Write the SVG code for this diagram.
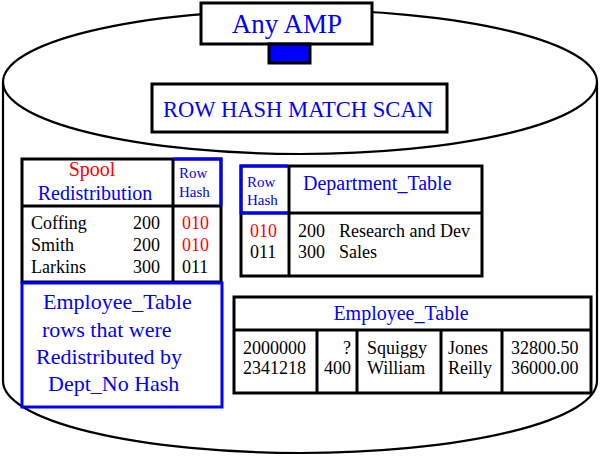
<svg xmlns="http://www.w3.org/2000/svg" width="600" height="456" viewBox="0 0 600 456">
<style>
text{font-family:"Liberation Serif","Times New Roman",serif;}
.cyl{fill:none;stroke:#000;stroke-width:2.2}
.bx{fill:#fff;stroke:#000;stroke-width:3}
.ln{stroke:#000;stroke-width:3}
.bl{stroke:#0000ff;stroke-width:3;fill:none}
.b{fill:#0000ff}
.r{fill:#ff0000}
.k{fill:#000}
</style>
<rect width="600" height="456" fill="#fff"/>
<g id="cylinder">
<ellipse class="cyl" cx="300" cy="82" rx="297" ry="72"/>
<path class="cyl" d="M3,82 L3,381 A297,72 0 0 0 597,381 L597,82"/>
</g>
<g id="any-amp">
<rect class="bx" x="201" y="3" width="171" height="41"/>
<rect x="269" y="44" width="41" height="19" fill="#0000ff" stroke="#000" stroke-width="3"/>
<text class="b" x="287" y="33" font-size="27" text-anchor="middle">Any AMP</text>
</g>
<g id="row-hash-match-scan">
<rect class="bx" x="152" y="84" width="295" height="48"/>
<text class="b" x="298" y="117" font-size="22.6" text-anchor="middle">ROW HASH MATCH SCAN</text>
</g>
<g id="spool">
<rect class="bx" x="22" y="159" width="199" height="123"/>
<line class="ln" x1="22" y1="206" x2="221" y2="206"/>
<line class="ln" x1="173" y1="159" x2="173" y2="282"/>
<polyline class="bl" points="173,159 221,159 221,206"/>
<text class="r" x="92" y="176" font-size="20" text-anchor="middle">Spool</text>
<text class="b" x="95" y="200" font-size="20" text-anchor="middle">Redistribution</text>
<text class="b" x="179" y="178" font-size="15">Row</text>
<text class="b" x="179" y="197" font-size="15">Hash</text>
<text class="k" font-size="18"><tspan x="31" y="229">Coffing</tspan><tspan x="31" y="251">Smith</tspan><tspan x="31" y="273">Larkins</tspan></text>
<text class="k" font-size="18" text-anchor="end"><tspan x="160" y="229">200</tspan><tspan x="160" y="251">200</tspan><tspan x="160" y="273">300</tspan></text>
<text font-size="18"><tspan class="r" x="182" y="229">010</tspan><tspan class="r" x="182" y="251">010</tspan><tspan class="k" x="182" y="273">011</tspan></text>
</g>
<g id="redistributed-rows">
<rect x="22" y="283" width="200" height="124" fill="#fff" stroke="#0000ff" stroke-width="3"/>
<text class="b" font-size="22"><tspan x="43" y="309">Employee_Table</tspan><tspan x="42" y="337">rows that were</tspan><tspan x="36" y="364">Redistributed by</tspan><tspan x="48" y="391">Dept_No Hash</tspan></text>
</g>
<g id="department-table">
<rect class="bx" x="241" y="166" width="241" height="110"/>
<line class="ln" x1="241" y1="213" x2="482" y2="213"/>
<line class="ln" x1="289" y1="166" x2="289" y2="276"/>
<polyline class="bl" points="288,166 241,166 241,213 288,213"/>
<text class="b" x="247" y="187" font-size="15">Row</text>
<text class="b" x="247" y="205" font-size="15">Hash</text>
<text class="b" x="303" y="190" font-size="20">Department_Table</text>
<text font-size="18"><tspan class="r" x="250" y="237">010</tspan><tspan class="k" x="250" y="258">011</tspan></text>
<text class="k" font-size="18"><tspan x="298" y="237">200</tspan><tspan x="298" y="258">300</tspan></text>
<text class="k" font-size="18"><tspan x="339" y="237">Research and Dev</tspan><tspan x="339" y="258">Sales</tspan></text>
</g>
<g id="employee-table">
<rect class="bx" x="234" y="297" width="357" height="96"/>
<line class="ln" x1="234" y1="330" x2="591" y2="330"/>
<line class="ln" x1="317" y1="330" x2="317" y2="393"/>
<line class="ln" x1="357" y1="330" x2="357" y2="393"/>
<line class="ln" x1="441" y1="330" x2="441" y2="393"/>
<line class="ln" x1="502" y1="330" x2="502" y2="393"/>
<text class="b" x="401" y="320" font-size="20" text-anchor="middle">Employee_Table</text>
<text class="k" font-size="18"><tspan x="243" y="354">2000000</tspan><tspan x="243" y="374">2341218</tspan></text>
<text class="k" font-size="18" text-anchor="end"><tspan x="351" y="354">?</tspan><tspan x="351" y="374">400</tspan></text>
<text class="k" font-size="18"><tspan x="367" y="354">Squiggy</tspan><tspan x="367" y="374">William</tspan></text>
<text class="k" font-size="18"><tspan x="448" y="354">Jones</tspan><tspan x="448" y="374">Reilly</tspan></text>
<text class="k" font-size="18"><tspan x="511" y="354">32800.50</tspan><tspan x="511" y="374">36000.00</tspan></text>
</g>
<g id="connectors"></g>
</svg>
